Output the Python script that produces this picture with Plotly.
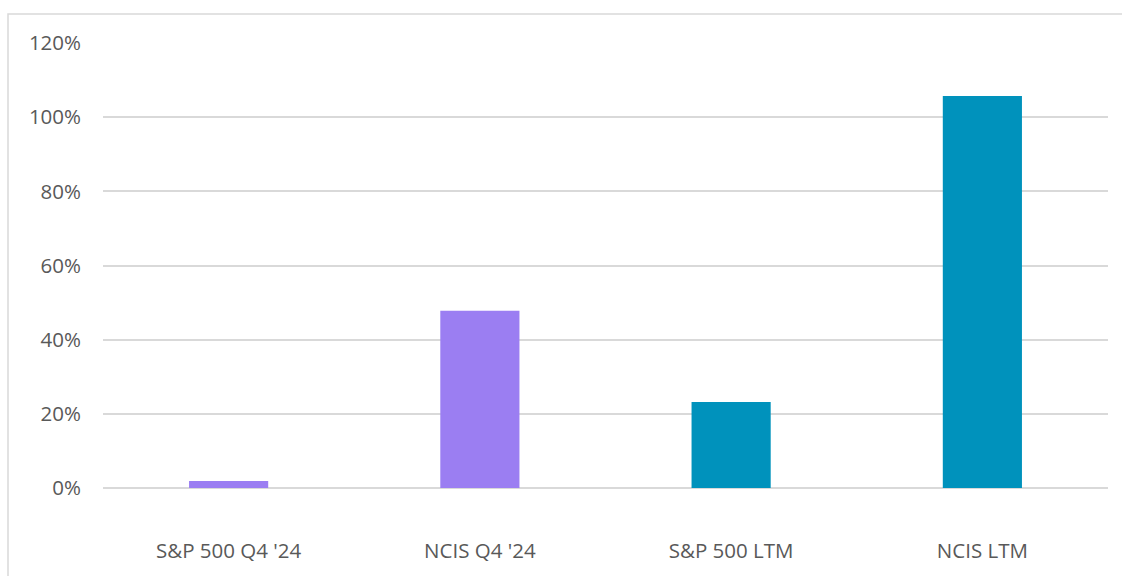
import plotly.graph_objects as go

categories = ["S&P 500 Q4 '24", "NCIS Q4 '24", "S&P 500 LTM", "NCIS LTM"]
values = [1.9, 47.8, 23.2, 105.7]
colors = ["#9B7EF2", "#9B7EF2", "#0092BC", "#0092BC"]
tick_vals = [0, 20, 40, 60, 80, 100, 120]
tick_text = ["0%", "20%", "40%", "60%", "80%", "100%", "120%"]

W, H = 1122, 576
L, R, T, B = 103, 14, 43, 88
pw = W - L - R
ph = H - T - B

fig = go.Figure(go.Bar(x=categories, y=values, marker=dict(color=colors, line=dict(width=0)),
                       hoverinfo="x+y"))

fig.update_layout(
    width=W, height=H,
    margin=dict(l=L, r=R, t=T, b=B),
    paper_bgcolor="white", plot_bgcolor="white",
    bargap=0.685,
    showlegend=False,
    font=dict(family="Open Sans, Liberation Sans, sans-serif", color="#595959"),
    xaxis=dict(showgrid=False, showline=False, ticks="", tickfont=dict(size=20.5, color="#595959"),
               ticklabelstandoff=48),
    yaxis=dict(range=[0, 120], tickvals=tick_vals, ticktext=tick_text,
               showgrid=True, gridcolor="#d9d9d9", gridwidth=1.5,
               zeroline=True, zerolinecolor="#d9d9d9", zerolinewidth=1.5,
               showline=False, ticks="", tickfont=dict(size=20.5, color="#595959"),
               ticklabelstandoff=21),
    shapes=[dict(type="rect", xref="paper", yref="paper",
                 x0=(8 - L) / pw, x1=(W + 10 - L) / pw,
                 y0=-(B + 20) / ph, y1=(H - B - 14) / ph,
                 line=dict(color="#d9d9d9", width=1.5), fillcolor="rgba(0,0,0,0)", layer="below")],
)

fig.write_html("out.html")
